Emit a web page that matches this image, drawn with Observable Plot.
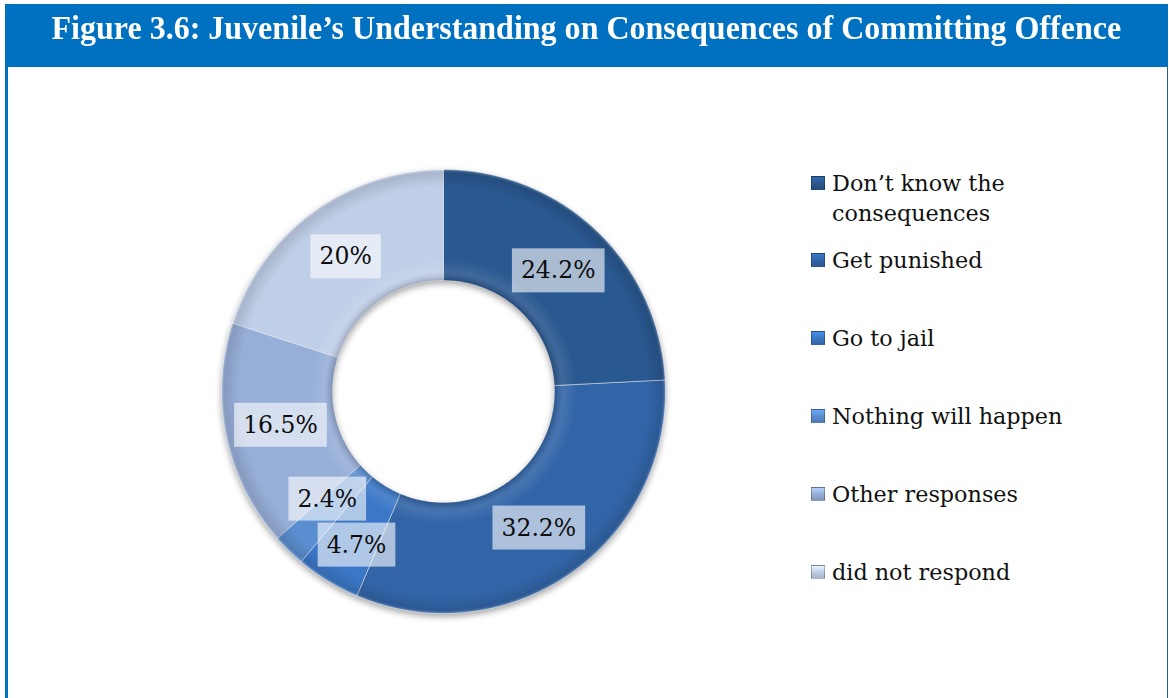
<!DOCTYPE html>
<html>
<head>
<meta charset="utf-8">
<script src="https://cdn.jsdelivr.net/npm/d3@7"></script>
<script src="https://cdn.jsdelivr.net/npm/@observablehq/plot@0.6"></script>
<style>
  html, body { margin: 0; padding: 0; background: #fff; }
  #page { position: relative; width: 1169px; height: 698px; overflow: hidden; background: #fff; }
  #frame { position: absolute; left: 5px; top: 4px; width: 1159px; height: 700px;
           border-left: 3px solid #0070c0; border-right: 1px solid #2b5f94; }
  #header { position: absolute; left: 5px; top: 4px; width: 1163px; height: 63px; background: #0070c0;
            display: flex; align-items: flex-start; justify-content: center; }
  #header h1 { margin: 0; padding-top: 5px; color: #fff; font-family: "Liberation Serif", "Times New Roman", serif;
               font-weight: bold; font-size: 33px; line-height: 38px; white-space: nowrap; transform: scaleX(0.97); }
  #chart { position: absolute; left: 0; top: 67px; }
  .slices { filter: drop-shadow(0px 3px 3px rgba(0,0,0,0.35)); }
  #legend { position: absolute; left: 811px; top: 168px; font-family: "DejaVu Serif", serif; font-size: 22.3px; color: #111; }
  .item { position: absolute; left: 0; white-space: nowrap; }
  .sw { position: absolute; left: 0; top: 8px; width: 14px; height: 14px; box-sizing: border-box;
        border: 1px solid rgba(0,0,0,0.25); }
  .lab { position: absolute; left: 21px; top: 0; line-height: 30px; }
</style>
</head>
<body>
<div id="page">
  <div id="frame"></div>
  <div id="header"><h1>Figure 3.6: Juvenile’s Understanding on Consequences of Committing Offence</h1></div>
  <div id="chart"></div>
  <div id="legend"></div>
</div>
<script>
// ---- data ----
const categories = ["Don’t know the consequences", "Get punished", "Go to jail", "Nothing will happen", "Other responses", "did not respond"];
const legendLines = [["Don’t know the", "consequences"], ["Get punished"], ["Go to jail"], ["Nothing will happen"], ["Other responses"], ["did not respond"]];
const values = [24.2, 32.2, 4.7, 2.4, 16.5, 20];
const valueLabels = ["24.2%", "32.2%", "4.7%", "2.4%", "16.5%", "20%"];
const colors = ["#2a5890", "#3265a8", "#3b77c6", "#5b8ed0", "#97afd8", "#c0cfe8"];

// ---- geometry from data (pie layout) ----
const innerR = 0.5, outerR = 1;
const arcs = d3.pie().sort(null).value(d => d)(values);
const ringPoints = [];
arcs.forEach((a, i) => {
  const n = Math.max(4, Math.ceil((a.endAngle - a.startAngle) / (Math.PI / 180)));
  for (let k = 0; k <= n; k++) {
    const t = a.startAngle + (a.endAngle - a.startAngle) * k / n;
    ringPoints.push({key: categories[i], x: outerR * Math.sin(t), y: outerR * Math.cos(t)});
  }
  for (let k = n; k >= 0; k--) {
    const t = a.startAngle + (a.endAngle - a.startAngle) * k / n;
    ringPoints.push({key: categories[i], x: innerR * Math.sin(t), y: innerR * Math.cos(t)});
  }
});
const labelData = arcs.map((a, i) => {
  const t = (a.startAngle + a.endAngle) / 2, r = (innerR + outerR) / 2;
  return {label: valueLabels[i], x: r * Math.sin(t), y: r * Math.cos(t)};
});

// ---- plot ----
const cx = 443, cy = 324, R = 222;
const plot = Plot.plot({
  width: 1169,
  height: 631,
  margin: 0,
  x: {domain: [-1, 1], range: [cx - R, cx + R], axis: null},
  y: {domain: [-1, 1], range: [cy + R, cy - R], axis: null},
  color: {domain: categories, range: colors},
  style: {background: "transparent", overflow: "visible"},
  marks: [
    Plot.line(ringPoints, {x: "x", y: "y", z: "key", fill: "key", stroke: "#ffffff", strokeOpacity: 0.45, strokeWidth: 1, curve: "linear-closed", className: "slices"}),
    Plot.line(ringPoints, {x: "x", y: "y", z: "key", fill: "url(#bevel)", stroke: "none", curve: "linear-closed"}),
    Plot.text(labelData, {x: "x", y: "y", text: "label", fill: "#0d0d0d", fontSize: 23.5, fontFamily: "DejaVu Serif", className: "vlabels"})
  ]
});
document.getElementById("chart").appendChild(plot);

// bevel gradient
const ns = "http://www.w3.org/2000/svg";
const defs = document.createElementNS(ns, "defs");
defs.innerHTML = `<radialGradient id="bevel" gradientUnits="userSpaceOnUse" cx="${cx}" cy="${cy}" r="${R}">
  <stop offset="0.50" stop-color="#000" stop-opacity="0.18"/>
  <stop offset="0.54" stop-color="#fff" stop-opacity="0.10"/>
  <stop offset="0.60" stop-color="#fff" stop-opacity="0"/>
  <stop offset="0.92" stop-color="#000" stop-opacity="0"/>
  <stop offset="0.985" stop-color="#000" stop-opacity="0.12"/>
  <stop offset="1.0" stop-color="#fff" stop-opacity="0.25"/>
</radialGradient>`;
plot.insertBefore(defs, plot.firstChild);

// label background boxes, with simple vertical collision avoidance (in SVG coordinates)
const texts = Array.from(plot.querySelectorAll("g.vlabels text"));
const boxes = texts.map(t => {
  const b = t.getBBox();
  const tl = t.transform && t.transform.baseVal.numberOfItems ? t.transform.baseVal.consolidate().matrix : {e: 0, f: 0};
  return {t, bx: b.x, by: b.y, tx: tl.e, ty: tl.f, w: b.width + 18, h: b.height + 16, dy: 0};
});
const ax = bx => bx.tx + bx.bx - 9;
const ay = bx => bx.ty + bx.by - 8 + bx.dy;
for (let pass = 0; pass < 3; pass++) {
  for (let i = 0; i < boxes.length; i++) {
    for (let j = i + 1; j < boxes.length; j++) {
      const a = boxes[i], b = boxes[j];
      const ox = Math.min(ax(a) + a.w, ax(b) + b.w) - Math.max(ax(a), ax(b));
      const oy = Math.min(ay(a) + a.h, ay(b) + b.h) - Math.max(ay(a), ay(b));
      if (ox > 0 && oy > 0) {
        const s = (oy + 2) / 2;
        if (ay(a) <= ay(b)) { a.dy -= s; b.dy += s; } else { a.dy += s; b.dy -= s; }
      }
    }
  }
}
boxes.forEach(bx => {
  const g = document.createElementNS(ns, "g");
  g.setAttribute("transform", `translate(${bx.tx},${bx.ty + bx.dy})`);
  const r = document.createElementNS(ns, "rect");
  r.setAttribute("x", bx.bx - 9);
  r.setAttribute("y", bx.by - 8);
  r.setAttribute("width", bx.w);
  r.setAttribute("height", bx.h);
  r.setAttribute("fill", "#ffffff");
  r.setAttribute("fill-opacity", 0.6);
  g.appendChild(r);
  bx.t.parentNode.insertBefore(g, bx.t);
  bx.t.setAttribute("transform", `translate(${bx.tx},${bx.ty + bx.dy})`);
});
// ensure texts are drawn above all boxes
texts.forEach(t => t.parentNode.appendChild(t));

// legend
const legend = document.getElementById("legend");
const offsets = [0, 77, 155, 233, 311, 389];
legendLines.forEach((lines, i) => {
  const item = document.createElement("div");
  item.className = "item";
  item.style.top = offsets[i] + "px";
  const sw = document.createElement("div");
  sw.className = "sw";
  sw.style.background = `linear-gradient(180deg, ${d3.color(colors[i]).brighter(0.5)} 0%, ${colors[i]} 50%, ${d3.color(colors[i]).darker(0.4)} 100%)`;
  item.appendChild(sw);
  const lab = document.createElement("div");
  lab.className = "lab";
  lab.innerHTML = lines.join("<br>");
  item.appendChild(lab);
  legend.appendChild(item);
});
</script>
</body>
</html>
